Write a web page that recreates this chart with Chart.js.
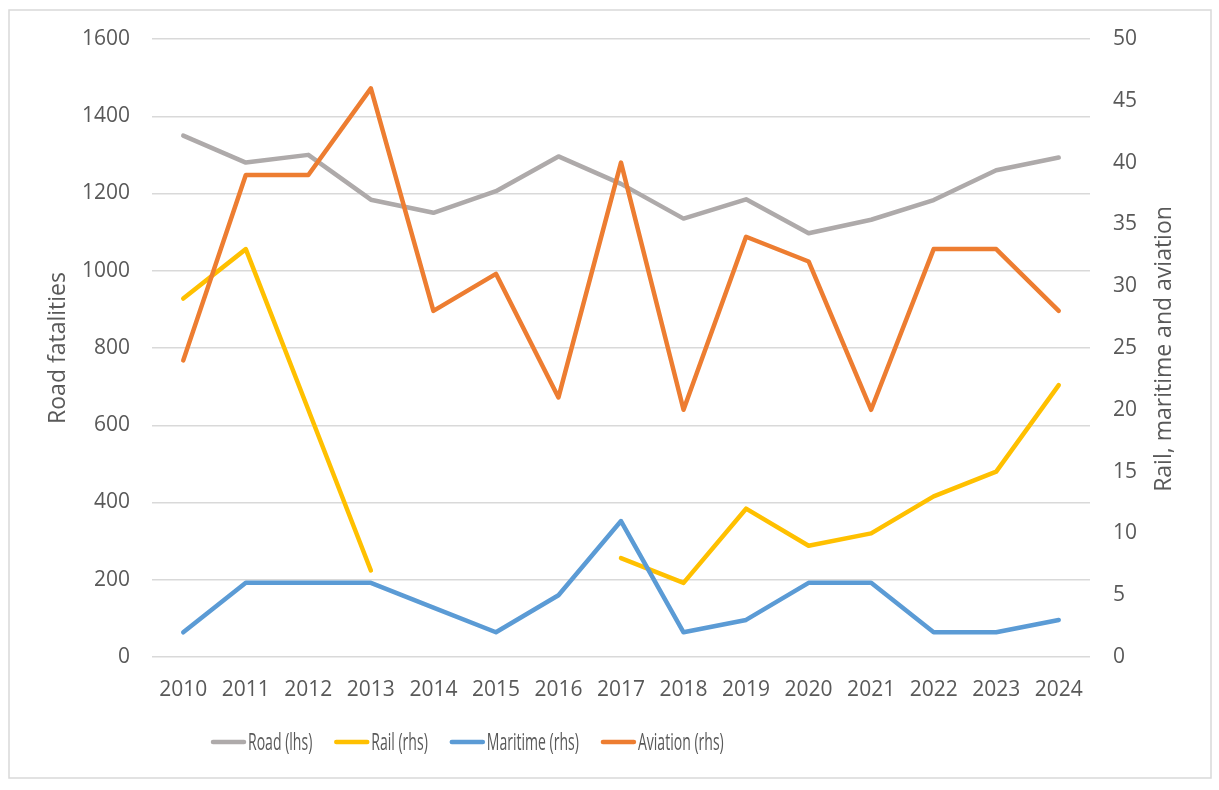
<!DOCTYPE html>
<html>
<head>
<meta charset="utf-8">
<script src="https://cdn.jsdelivr.net/npm/chart.js@4.4.1/dist/chart.umd.min.js"></script>
<style>
  html, body { margin: 0; padding: 0; background: #fff; }
  #wrap { width: 1219px; height: 790px; }
</style>
</head>
<body>
<div id="wrap"><canvas id="chart" width="1219" height="790"></canvas></div>
<script>
// Years on the category axis
const years = ['2010', '2011', '2012', '2013', '2014', '2015', '2016', '2017',
               '2018', '2019', '2020', '2021', '2022', '2023', '2024'];

// Road fatalities (left axis)
const road = [1350, 1280, 1300, 1184, 1150, 1206, 1296, 1225, 1135, 1185, 1097, 1132, 1183, 1260, 1293];

// Rail, maritime and aviation (right axis) - rail has no values for 2014-2016
const rail = [29, 33, 20, 7, null, null, null, 8, 6, 12, 9, 10, 13, 15, 22];
const maritime = [2, 6, 6, 6, 4, 2, 5, 11, 2, 3, 6, 6, 2, 2, 3];
const aviation = [24, 39, 39, 46, 28, 31, 21, 40, 20, 34, 32, 20, 33, 33, 28];

const seriesNames = ['Road (lhs)', 'Rail (rhs)', 'Maritime (rhs)', 'Aviation (rhs)'];
const seriesColors = ['#AEAAAA', '#FFC000', '#5B9BD5', '#ED7D31'];
const rightTitle = 'Rail, maritime and aviation';

const textColor = '#595959';
const gridColor = '#D9D9D9';
const tickFont = { family: 'Open Sans', size: 21 };
const titleFont = { family: 'Open Sans', size: 23 };

function line(i, data, axis, order) {
    return {
        label: seriesNames[i],
        data: data,
        yAxisID: axis,
        borderColor: seriesColors[i],
        backgroundColor: seriesColors[i],
        borderWidth: 4.5,
        borderCapStyle: 'round',
        borderJoinStyle: 'round',
        pointRadius: 0,
        pointHoverRadius: 0,
        tension: 0,
        spanGaps: false,
        order: order
    };
}

// white page with a thin frame, like the spreadsheet chart box
const frame = {
    id: 'frame',
    beforeDraw(chart) {
        const c = chart.ctx;
        c.save();
        c.fillStyle = '#fff';
        c.fillRect(0, 0, chart.width, chart.height);
        c.strokeStyle = gridColor;
        c.lineWidth = 1.5;
        c.strokeRect(9, 10, 1202, 768);
        c.restore();
    }
};

// right axis title reads bottom-to-top in the original
const rightAxisTitle = {
    id: 'rightAxisTitle',
    afterDraw(chart) {
        const c = chart.ctx;
        const area = chart.chartArea;
        c.save();
        c.translate(1164, (area.top + area.bottom) / 2 + 1);
        c.rotate(-Math.PI / 2);
        c.font = titleFont.size + 'px "' + titleFont.family + '"';
        c.fillStyle = textColor;
        c.textAlign = 'center';
        c.textBaseline = 'middle';
        c.fillText(rightTitle, 0, 0);
        c.restore();
    }
};

// legend drawn by hand so it can sit where the original one sits
const bottomLegend = {
    id: 'bottomLegend',
    afterDraw(chart) {
        const c = chart.ctx;
        const y = 742;
        const squeeze = 0.585;
        let x = 211;
        c.save();
        c.font = '24px "Open Sans"';
        c.textBaseline = 'middle';
        chart.data.datasets.forEach(ds => {
            c.strokeStyle = ds.borderColor;
            c.lineWidth = 4.5;
            c.lineCap = 'round';
            c.beginPath();
            c.moveTo(x + 2, y);
            c.lineTo(x + 33, y);
            c.stroke();
            const tx = x + 37;
            const w = c.measureText(ds.label).width * squeeze;
            c.save();
            c.translate(tx, y + 1);
            c.scale(squeeze, 1);
            c.fillStyle = textColor;
            c.fillText(ds.label, 0, 0);
            c.restore();
            x = tx + w + 22;
        });
        c.restore();
    }
};

new Chart(document.getElementById('chart'), {
    type: 'line',
    data: {
        labels: years,
        datasets: [
            line(0, road, 'y', 3),
            line(1, rail, 'y1', 2),
            line(2, maritime, 'y1', 1),
            line(3, aviation, 'y1', 0)
        ]
    },
    options: {
        responsive: false,
        animation: false,
        events: [],
        layout: { padding: { top: 39, left: 0, right: 0, bottom: 0 } },
        plugins: {
            legend: { display: false },
            tooltip: { enabled: false }
        },
        scales: {
            x: {
                offset: true,
                grid: { display: false },
                border: { display: false },
                ticks: { color: textColor, font: tickFont, padding: 12, maxRotation: 0 },
                afterFit: s => { s.height = 133; }
            },
            y: {
                position: 'left',
                min: 0,
                max: 1600,
                ticks: {
                    stepSize: 200,
                    color: textColor,
                    font: tickFont,
                    padding: 22,
                    callback: v => String(v)
                },
                grid: { color: gridColor, lineWidth: 1.4, drawTicks: false },
                border: { display: false },
                title: {
                    display: true,
                    text: 'Road fatalities',
                    color: textColor,
                    font: titleFont,
                    padding: { top: 45, bottom: 0 }
                },
                afterFit: s => { s.width = 152; }
            },
            y1: {
                position: 'right',
                min: 0,
                max: 50,
                ticks: {
                    stepSize: 5,
                    color: textColor,
                    font: tickFont,
                    padding: 23,
                    callback: v => String(v)
                },
                grid: { drawOnChartArea: false, drawTicks: false },
                border: { display: false },
                afterFit: s => { s.width = 129; }
            }
        }
    },
    plugins: [frame, rightAxisTitle, bottomLegend]
});
</script>
</body>
</html>
